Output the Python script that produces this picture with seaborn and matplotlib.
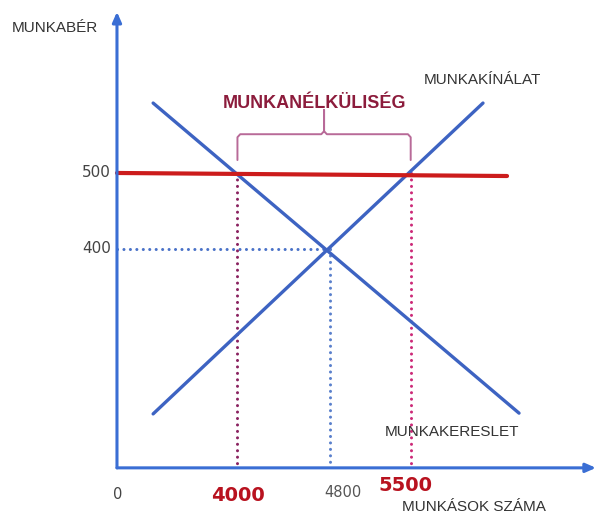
import numpy as np
import pandas as pd
import matplotlib
matplotlib.use("Agg")
import matplotlib.pyplot as plt
import seaborn as sns

# ---- data ----
wage_ticks = [400, 500]
wage_tick_labels = ["400", "500"]
worker_ticks = [4000, 4800, 5500]
worker_tick_labels = ["4000", "4800", "5500"]

demand_x = [3270, 6438]     # MUNKAKERESLET
demand_y = [592, 184]
supply_x = [3270, 6126]     # MUNKAKÍNÁLAT
supply_y = [183, 592]
floor_x = [2957, 6334]      # minimum wage line
floor_y = [500, 496]

equilibrium = (4800, 400)
surplus_lo, surplus_hi = 4000, 5500   # MUNKANÉLKÜLISÉG range at wage 500
wage_floor = 500

# axis origin / extent of the schematic
AX_X0, AX_Y0 = 2957, 112
AX_X1, AX_Y1 = 7104, 712

W, H = 597, 515
sns.set_theme(style="white")
plt.rcParams["font.family"] = ["Liberation Sans", "DejaVu Sans"]

fig = plt.figure(figsize=(W / 100, H / 100), dpi=100)
ax = fig.add_axes([0, 0, 1, 1])
ax.set_xlim(1944.2, 1944.2 + W / 0.1155)
ax.set_ylim(727.6 - H / 0.76, 727.6)
ax.axis("off")

blue = "#3d63c2"
axis_blue = "#3a6ed4"
red = "#cc1c1c"

lines = pd.DataFrame({
    "x": demand_x + supply_x + floor_x,
    "y": demand_y + supply_y + floor_y,
    "curve": ["demand"] * 2 + ["supply"] * 2 + ["floor"] * 2,
})
sns.lineplot(data=lines[lines.curve != "floor"], x="x", y="y", units="curve",
             estimator=None, color=blue, lw=2.4, ax=ax, solid_capstyle="round",
             zorder=3)
sns.lineplot(data=lines[lines.curve == "floor"], x="x", y="y",
             estimator=None, color=red, lw=3.0, ax=ax, zorder=4)

# dotted guide lines
dot = dict(lw=2.2, linestyle=(0, (0.01, 2.1)), dash_capstyle="round", zorder=2)
ex, ey = equilibrium
ax.plot([AX_X0, ex], [ey, ey], color="#4a72c8", **dot)
ax.plot([ex, ex], [ey, AX_Y0], color="#5a80cc", **dot)
ax.plot([surplus_lo, surplus_lo], [wage_floor, AX_Y0], color="#8a2260", **dot)
ax.plot([surplus_hi, surplus_hi], [wage_floor, AX_Y0], color="#cc2a78", **dot)

# axes with arrows
arrow = dict(arrowstyle="-|>,head_length=0.5,head_width=0.22", color=axis_blue,
             lw=2.2, shrinkA=0, shrinkB=0)
ax.annotate("", xy=(AX_X0, AX_Y1), xytext=(AX_X0, AX_Y0), arrowprops=arrow, zorder=5)
ax.annotate("", xy=(AX_X1, AX_Y0), xytext=(AX_X0, AX_Y0), arrowprops=arrow, zorder=5)

# brace over the unemployment range
b_bot, b_mid, b_top = 517, 551, 583
xm = (surplus_lo + surplus_hi) / 2
r = 60
bx = [surplus_lo, surplus_lo, surplus_lo + r * 0.4, xm - r * 0.4, xm, xm,
      xm, xm + r * 0.4, surplus_hi - r * 0.4, surplus_hi, surplus_hi]
by = [b_bot, b_mid - 4, b_mid, b_mid, b_mid + 4, b_top,
      b_mid + 4, b_mid, b_mid, b_mid - 4, b_bot]
ax.plot(bx, by, color="#b86a98", lw=1.4, zorder=2, solid_joinstyle="round")

# texts
def ftext(px, py, s, **kw):
    fig.text(px / W, 1 - py / H, s, ha="center", va="center", **kw)

ftext(55, 28, "MUNKABÉR", fontsize=11, color="#333333")
ftext(482, 80, "MUNKAKÍNÁLAT", fontsize=11, color="#333333")
ftext(452, 432, "MUNKAKERESLET", fontsize=11, color="#333333")
ftext(474, 507, "MUNKÁSOK SZÁMA", fontsize=11, color="#333333")
ftext(314, 103, "MUNKANÉLKÜLISÉG", fontsize=13, fontweight="bold", color="#8c1c3c")

numfont = ["DejaVu Sans"]
for v, lab in zip(wage_ticks, wage_tick_labels):
    ax.annotate(lab, xy=(AX_X0, v), xytext=(-4.5, 0), textcoords="offset points",
                ha="right", va="center", fontsize=11, color="#444444", family=numfont)

ax.annotate("0", xy=(AX_X0, AX_Y0), xytext=(0.5, -19), textcoords="offset points",
            ha="center", va="center", fontsize=10.5, color="#444444", family=numfont)
xt_style = {
    "4000": dict(off=(0.5, -20), fontsize=14, fontweight="bold", color="#b8121f"),
    "4800": dict(off=(9.5, -18), fontsize=10.5, fontweight="normal", color="#555555"),
    "5500": dict(off=(-4, -13), fontsize=14, fontweight="bold", color="#b8121f"),
}
for v, lab in zip(worker_ticks, worker_tick_labels):
    st = xt_style[lab]
    ax.annotate(lab, xy=(v, AX_Y0), xytext=st["off"], textcoords="offset points",
                ha="center", va="center", fontsize=st["fontsize"],
                fontweight=st["fontweight"], color=st["color"], family=numfont)

fig.savefig("out.png", dpi=100, facecolor="white")
